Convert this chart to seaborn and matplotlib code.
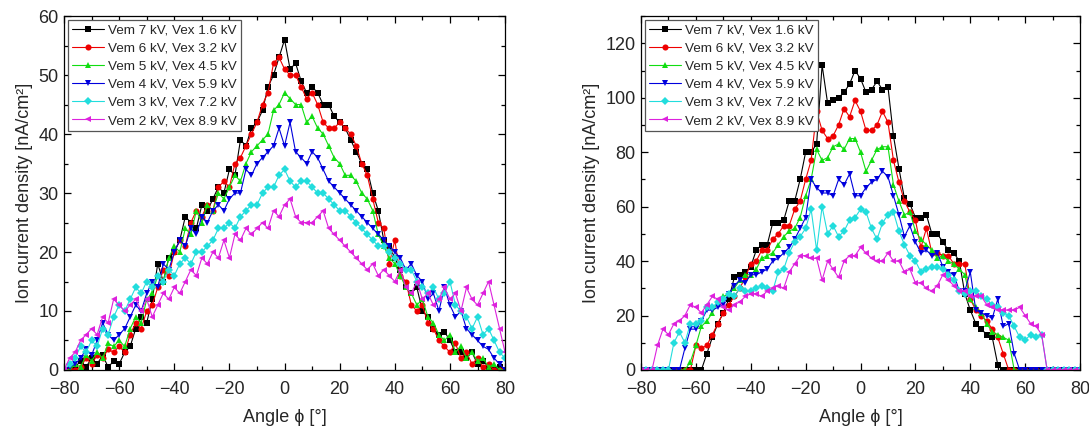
import numpy as np
import pandas as pd
import matplotlib
matplotlib.use("Agg")
import matplotlib.pyplot as plt
from matplotlib.ticker import MultipleLocator
import seaborn as sns

# ---------------- data ----------------
ANGLES = list(range(-80, 81, 2))

SERIES = ["Vem 7 kV, Vex 1.6 kV", "Vem 6 kV, Vex 3.2 kV", "Vem 5 kV, Vex 4.5 kV",
          "Vem 4 kV, Vex 5.9 kV", "Vem 3 kV, Vex 7.2 kV", "Vem 2 kV, Vex 8.9 kV"]

# left panel
L_k7 = [0, 0, 0.5, 1.5, 0.5, 2, 1, 2.5, 0.5, 1.5,
        1, 3, 4, 7, 9, 8, 12, 18, 15, 19,
        20, 22, 26, 25, 24, 28, 27, 29, 31, 30,
        34, 33, 39, 38, 41, 42, 44, 48, 50, 53,
        56, 51, 52, 49, 47, 48, 47, 45, 45, 43,
        42, 41, 39, 37, 35, 34, 30, 27, 22, 21,
        19, 17, 14, 13, 14, 10, 9, 7, 6, 6.5,
        5, 3, 3, 2, 3, 1, 1.5, 0.5, 0, 0.5,
        0]
L_k6 = [0, 0, 0, 0.5, 2, 1, 2.5, 2, 3.5, 3,
        4, 3, 6, 8, 7, 10, 11, 14, 17, 16,
        20, 22, 21, 25, 27, 26, 28, 27, 31, 32,
        31, 35, 36, 38, 40, 42, 45, 47, 52, 53,
        51, 50, 50, 48, 46, 47, 45, 42, 41, 41,
        42, 41, 40, 38, 35, 33, 29, 25, 24, 18,
        22, 16, 15, 11, 10, 11, 8, 7, 5, 4,
        3, 4.5, 2, 3, 1, 2, 0.5, 1, 0, 0,
        0]
L_k5 = [0, 0, 1, 0.5, 2.5, 1.5, 3, 2, 4.5, 4,
        5, 4, 7, 9, 8, 12, 13, 16, 15, 19,
        21, 20, 24, 23, 27, 25, 28, 27, 30, 29,
        31, 33, 32, 35, 37, 38, 39, 40, 44, 45,
        47, 46, 45, 45, 42, 43, 41, 40, 38, 36,
        35, 33, 33, 32, 30, 29, 27, 23, 21, 19,
        18, 16, 14, 13, 11, 12, 9, 8, 6, 5,
        6, 3, 4, 2, 3, 1.5, 2, 0.5, 1, 0,
        0]
L_k4 = [0, 0.5, 1, 2, 3.5, 2.5, 5, 8, 6, 5,
        6, 7, 9, 11, 10, 13, 15, 14, 18, 17,
        20, 22, 21, 24, 23, 26, 25, 27, 28, 27,
        29, 30, 30, 34, 33, 35, 36, 37, 38, 41,
        38, 42, 37, 36, 35, 37, 36, 34, 32, 31,
        30, 29, 28, 27, 26, 25, 24, 23, 22, 21,
        20, 19, 17, 18, 16, 15, 12, 13, 10, 14,
        11, 9, 10, 7, 6, 5, 4, 3.5, 2, 1,
        0]
L_k3 = [0, 1, 2, 4, 3, 5, 4, 7, 6, 9,
        11, 10, 12, 14, 13, 15, 14, 16, 15, 17,
        16, 18, 19, 18, 20, 20, 21, 22, 24, 24,
        25, 24, 26, 27, 28, 28, 30, 31, 31, 33,
        34, 32, 31, 32, 32, 31, 30, 30, 29, 28,
        27, 27, 26, 25, 24, 23, 22, 21, 21, 20,
        19, 18, 17, 17, 15, 14, 13, 14, 12, 13,
        15, 11, 10, 9, 7, 9, 6, 7, 5, 3,
        2]
L_k2 = [0, 2, 3, 5, 6, 7, 6, 9, 8, 12,
        11, 10, 11, 12, 10, 12, 9, 11, 13, 12,
        14, 13, 15, 17, 16, 19, 18, 20, 19, 22,
        19, 23, 22, 24, 23, 24, 25, 24, 27, 26,
        28, 29, 26, 25, 25, 25, 26, 27, 24, 23,
        22, 21, 20, 19, 18, 17, 18, 16, 17, 16,
        15, 17, 14, 13, 15, 12, 13, 11, 12, 14,
        12, 13, 10, 14, 12, 11, 13, 15, 11, 7,
        3]

# right panel
R_k7 = [0, 0, 0, 0, 0, 0, 0, 0, 0, 0,
        0, 0, 6, 12, 17, 21, 26, 34, 35, 36,
        38, 44, 46, 46, 54, 54, 55, 62, 62, 70,
        80, 80, 83, 112, 98, 99, 100, 102, 105, 110,
        107, 102, 103, 106, 103, 104, 86, 74, 63, 61,
        56, 56, 57, 50, 50, 47, 44, 43, 40, 28,
        22, 17, 15, 13, 12, 2, 0, 0, 0, 0,
        0, 0, 0, 0, 0, 0, 0, 0, 0, 0,
        0]
R_k6 = [0, 0, 0, 0, 0, 0, 0, 0, 0, 0,
        9, 8, 9, 13, 17, 21, 24, 27, 30, 34,
        39, 40, 44, 44, 48, 50, 53, 53, 59, 62,
        70, 77, 95, 88, 85, 86, 90, 96, 93, 99,
        95, 88, 88, 90, 95, 91, 77, 69, 62, 58,
        55, 45, 52, 43, 43, 42, 42, 39, 39, 39,
        26, 22, 20, 18, 15, 12, 6, 0, 0, 0,
        0, 0, 0, 0, 0, 0, 0, 0, 0, 0,
        0]
R_k5 = [0, 0, 0, 0, 0, 0, 0, 0, 0, 3,
        9, 16, 18, 21, 25, 27, 28, 30, 33, 35,
        35, 37, 41, 42, 43, 46, 49, 51, 52, 56,
        64, 70, 81, 77, 78, 82, 83, 81, 85, 85,
        80, 73, 77, 81, 82, 82, 68, 62, 57, 58,
        51, 48, 46, 44, 41, 42, 40, 39, 37, 35,
        26, 23, 21, 17, 14, 13, 12, 11, 0, 0,
        0, 0, 0, 0, 0, 0, 0, 0, 0, 0,
        0]
R_k4 = [0, 0, 0, 0, 0, 0, 0, 0, 8, 15,
        15, 18, 22, 22, 23, 24, 28, 31, 33, 32,
        35, 35, 36, 37, 40, 41, 43, 45, 48, 52,
        56, 70, 67, 65, 65, 64, 70, 68, 72, 64,
        64, 67, 69, 70, 73, 71, 64, 57, 49, 53,
        47, 43, 44, 42, 43, 38, 36, 35, 29, 29,
        36, 22, 21, 20, 19, 26, 16, 17, 6, 0,
        0, 0, 0, 0, 0, 0, 0, 0, 0, 0,
        0]
R_k3 = [0, 0, 0, 0, 0, 0, 10, 14, 10, 17,
        17, 18, 23, 23, 25, 26, 28, 27, 30, 29,
        29, 30, 31, 30, 29, 36, 37, 43, 47, 49,
        52, 59, 44, 60, 50, 53, 49, 51, 55, 56,
        59, 58, 52, 48, 54, 57, 58, 51, 46, 42,
        40, 36, 37, 38, 38, 37, 35, 33, 29, 28,
        29, 29, 27, 26, 24, 23, 21, 20, 16, 12,
        11, 13, 12, 13, 0, 0, 0, 0, 0, 0,
        0]
R_k2 = [0, 0, 0, 9, 15, 13, 17, 18, 20, 24,
        23, 21, 24, 27, 26, 23, 22, 24, 25, 27,
        28, 28, 27, 29, 30, 31, 30, 36, 39, 42,
        42, 41, 41, 33, 40, 37, 34, 40, 42, 42,
        45, 43, 41, 40, 40, 43, 40, 40, 36, 37,
        32, 32, 30, 29, 31, 35, 33, 31, 29, 29,
        27, 27, 27, 24, 23, 22, 22, 22, 22, 23,
        20, 17, 16, 13, 0, 0, 0, 0, 0, 0,
        0]

LEFT = [L_k7, L_k6, L_k5, L_k4, L_k3, L_k2]
RIGHT = [R_k7, R_k6, R_k5, R_k4, R_k3, R_k2]

COLORS = ["#000000", "#ee0000", "#11dd11", "#0000dd", "#22dddd", "#dd22dd"]
MARKERS = ["s", "o", "^", "v", "D", "<"]


def frame(values_list):
    rows = []
    for name, vals in zip(SERIES, values_list):
        for a, v in zip(ANGLES, vals):
            rows.append((a, v, name))
    return pd.DataFrame(rows, columns=["angle", "density", "series"])


sns.set_style("ticks")
plt.rcParams["font.family"] = ["Liberation Sans", "DejaVu Sans"]
plt.rcParams["xtick.direction"] = "in"
plt.rcParams["ytick.direction"] = "in"

fig = plt.figure(figsize=(10.89, 4.34), dpi=100)
ax1 = fig.add_axes([0.0588, 0.1475, 0.405, 0.8155])
ax2 = fig.add_axes([0.5886, 0.1475, 0.4032, 0.8155])

palette = dict(zip(SERIES, COLORS))
markers = dict(zip(SERIES, MARKERS))

for ax, vals, ymax, ymaj, ymin in [(ax1, LEFT, 60, 10, 5), (ax2, RIGHT, 130, 20, 10)]:
    df = frame(vals)
    sns.lineplot(data=df, x="angle", y="density", hue="series", style="series",
                 hue_order=SERIES, style_order=SERIES, palette=palette,
                 markers=markers, dashes=False, linewidth=0.8, markersize=4.4,
                 markeredgewidth=0, ax=ax)
    ax.set_xlim(-80, 80)
    ax.set_ylim(0, ymax)
    ax.xaxis.set_major_locator(MultipleLocator(20))
    ax.xaxis.set_minor_locator(MultipleLocator(10))
    ax.yaxis.set_major_locator(MultipleLocator(ymaj))
    ax.yaxis.set_minor_locator(MultipleLocator(ymin))
    ax.tick_params(which="both", direction="in", top=True, right=True,
                   labelsize=13, width=0.9, color="black")
    ax.tick_params(which="major", length=5)
    ax.tick_params(which="minor", length=3)
    ax.tick_params(axis="x", pad=8)
    ax.tick_params(axis="y", pad=4)
    for s in ax.spines.values():
        s.set_visible(True)
        s.set_linewidth(0.9)
        s.set_color("black")
    ax.set_xlabel("Angle \u03d5 [\u00b0]", fontsize=13, labelpad=8)
    ax.set_ylabel("Ion current density [nA/cm\u00b2]", fontsize=13, labelpad=4)
    leg = ax.legend(loc="upper left", fontsize=9.7, frameon=True, fancybox=False,
                    edgecolor="#555555", framealpha=1, borderaxespad=0.3,
                    borderpad=0.3, labelspacing=0.42, handlelength=2.4,
                    handletextpad=0.3)
    leg.get_frame().set_linewidth(0.9)
    leg.set_title(None)

fig.savefig("out.png", dpi=100)
